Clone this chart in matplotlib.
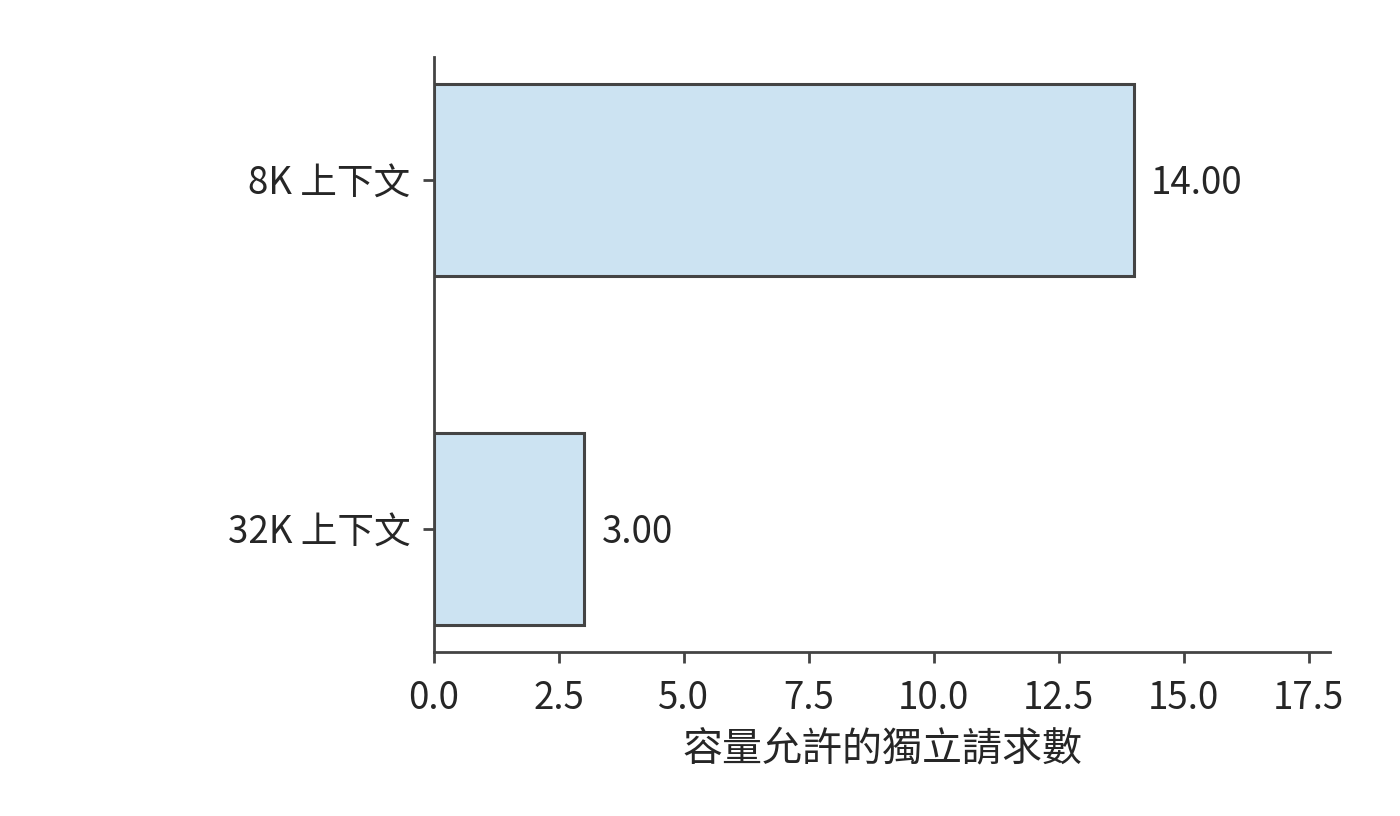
import matplotlib
matplotlib.use("Agg")
import matplotlib.pyplot as plt

categories = ["8K 上下文", "32K 上下文"]
values = [14.0, 3.0]
xlabel = "容量允許的獨立請求數"

plt.rcParams['font.family'] = ['Noto Sans CJK TC', 'DejaVu Sans']
text_color = '#262626'
edge = '#444444'

fig = plt.figure(figsize=(7, 4.08), dpi=200)
ax = fig.add_axes([0.31, 0.201, 0.64, 0.729])

ypos = list(range(len(categories)))
ax.barh(ypos, values, height=0.55, color='#cce3f2', edgecolor=edge, linewidth=1.1)
for y, v in zip(ypos, values):
    ax.annotate(f"{v:.2f}", xy=(v, y), xytext=(6.3, -1.1), textcoords='offset points',
                va='center', ha='left', color=text_color, fontsize=13.2)

ax.set_yticks(ypos)
ax.set_yticklabels(categories)
ax.set_ylim(1.352, -0.352)
ax.set_xlim(0, 17.93)
ax.set_xticks([0, 2.5, 5, 7.5, 10, 12.5, 15, 17.5])
ax.set_xticklabels(["0.0", "2.5", "5.0", "7.5", "10.0", "12.5", "15.0", "17.5"])
ax.set_xlabel(xlabel, color=text_color, fontsize=14.4, labelpad=4)

for s in ['top', 'right']:
    ax.spines[s].set_visible(False)
for s in ['left', 'bottom']:
    ax.spines[s].set_color(edge)
    ax.spines[s].set_linewidth(1.0)
ax.tick_params(colors=edge, labelcolor=text_color, length=4, width=1.0, labelsize=13.2)
ax.tick_params(axis='x', pad=5.7)
ax.tick_params(axis='y', pad=4.5)

fig.savefig("out.png", dpi=200)
